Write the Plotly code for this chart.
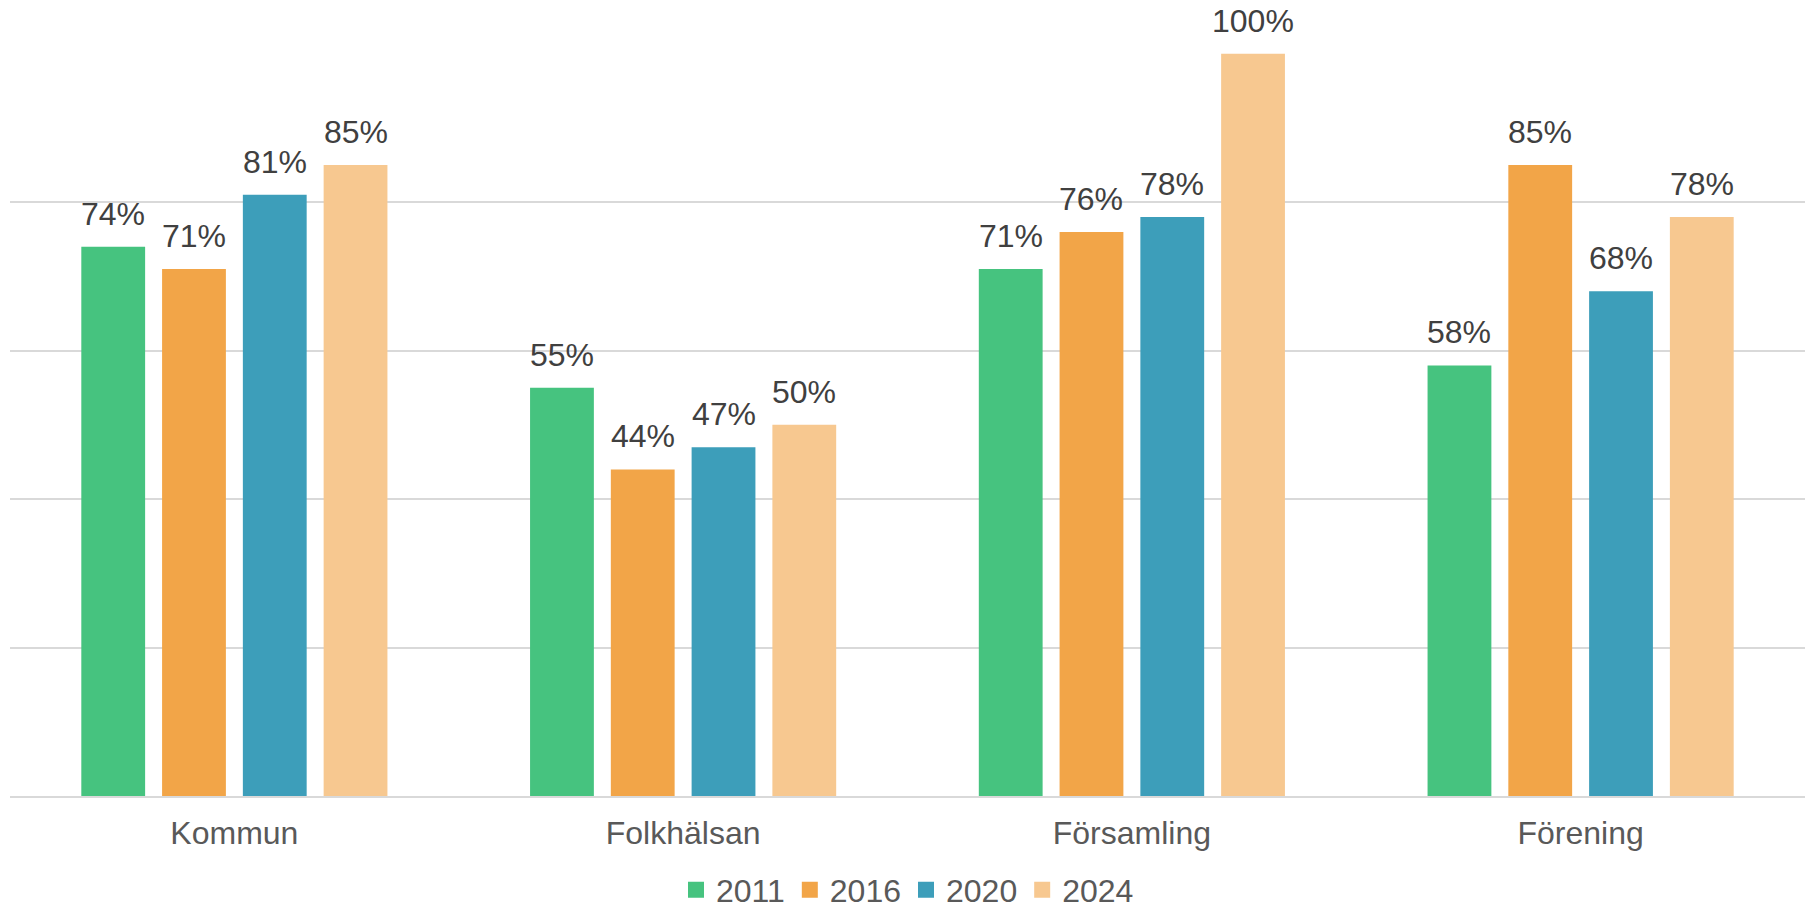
import plotly.graph_objects as go

categories = ["Kommun", "Folkhälsan", "Församling", "Förening"]
years = ["2011", "2016", "2020", "2024"]
values_2011 = [0.74, 0.55, 0.71, 0.58]
values_2016 = [0.71, 0.44, 0.76, 0.85]
values_2020 = [0.81, 0.47, 0.78, 0.68]
values_2024 = [0.85, 0.50, 1.00, 0.78]
series = [values_2011, values_2016, values_2020, values_2024]
colors = ["#46C37F", "#F2A548", "#3D9EBA", "#F7C890"]

FONT = "Liberation Sans, Arial, sans-serif"
W, H = 1811, 908
ML, MR, MT, MB = 10, 6, 53, 112
BARGAP = 0.28
BARGROUPGAP = 0.21

fig = go.Figure()
for name, vals, col in zip(years, series, colors):
    fig.add_trace(go.Bar(
        x=categories, y=vals, name=name,
        marker=dict(color=col, line=dict(width=0)),
        showlegend=False,
    ))
    fig.add_trace(go.Scatter(
        x=[None], y=[None], mode="markers", name=name,
        marker=dict(symbol="square", size=17, color=col),
        showlegend=True,
    ))

# data labels above bars, offset to each bar's slot within the group
plot_w = W - ML - MR
slot = plot_w / len(categories) * (1 - BARGAP) / len(series)
annotations = []
for j, vals in enumerate(series):
    xs = (j - (len(series) - 1) / 2) * slot
    for cat, v in zip(categories, vals):
        annotations.append(dict(
            x=cat, y=v, xref="x", yref="y", text=f"{round(v * 100)}%",
            showarrow=False, xshift=xs, yshift=13, yanchor="bottom", xanchor="center",
            font=dict(family=FONT, size=32, color="#404040"),
        ))

fig.update_layout(
    width=W, height=H,
    margin=dict(l=ML, r=MR, t=MT, b=MB, autoexpand=False),
    paper_bgcolor="white", plot_bgcolor="white",
    barmode="group", bargap=BARGAP, bargroupgap=BARGROUPGAP,
    font=dict(family=FONT, color="#595959"),
    annotations=annotations,
    legend=dict(orientation="h", x=0.5, xanchor="center", y=-0.1265, yanchor="middle",
                font=dict(family=FONT, size=32, color="#595959"),
                itemsizing="trace", traceorder="normal"),
    xaxis=dict(showgrid=False, showline=True, linecolor="#D9D9D9", linewidth=2,
               ticks="", tickfont=dict(family=FONT, size=32, color="#595959"),
               ticklabelstandoff=8),
    yaxis=dict(range=[0, 1.001], tickvals=[0.2, 0.4, 0.6, 0.8, 1.0], showgrid=True,
               gridcolor="#D9D9D9", gridwidth=2,
               showticklabels=False, zeroline=False, ticks=""),
)

fig.write_html("out.html",
               config={"displayModeBar": False},
               post_script="document.body.style.margin='0';document.body.style.overflow='hidden';")
